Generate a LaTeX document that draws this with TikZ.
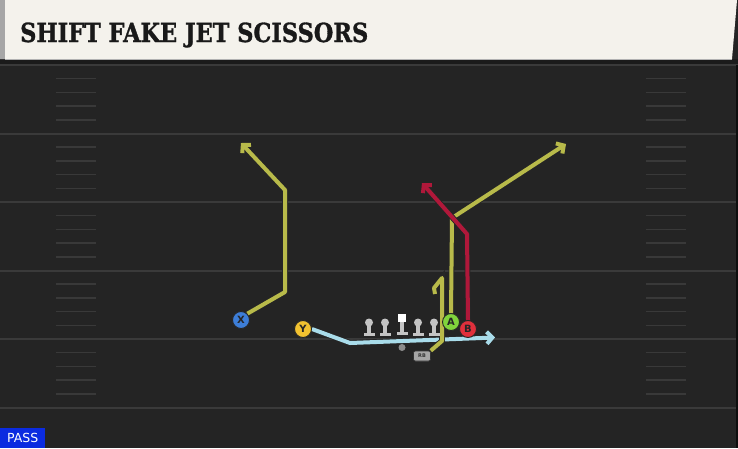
\documentclass[tikz,border=0pt]{standalone}
\usepackage{fontspec}
\usetikzlibrary{arrows.meta}
\newfontfamily\titlefont[BoldFeatures={FakeBold=1.2}]{DejaVu Serif Condensed}
\setsansfont{DejaVu Sans}
\definecolor{field}{HTML}{242424}
\definecolor{band}{HTML}{1B1B1B}
\definecolor{yardline}{HTML}{3A3A3A}
\definecolor{hashc}{HTML}{393939}
\definecolor{cream}{HTML}{F4F2EC}
\definecolor{olive}{HTML}{B8BA4A}
\definecolor{redroute}{HTML}{B0183A}
\definecolor{blueroute}{HTML}{A9DCEA}
\definecolor{xblue}{HTML}{3D7ED8}
\definecolor{yyellow}{HTML}{F2C230}
\definecolor{agreen}{HTML}{80D43C}
\definecolor{bred}{HTML}{E0303C}
\definecolor{linegray}{HTML}{C4C4C4}
\definecolor{passblue}{HTML}{0B2BE0}
\tikzset{
  player/.style={circle, draw=black!85, line width=0.9pt, minimum size=17pt, inner sep=0pt,
    font=\sffamily\bfseries\fontsize{10}{10}\selectfont, text=black!85},
  rblabel/.style={fill=black!35, draw=black!80, line width=0.6pt, rounded corners=2pt, minimum width=17pt,
    minimum height=10pt, inner sep=0pt, font=\sffamily\bfseries\fontsize{5}{5}\selectfont, text=black!80},
  route/.style={line width=4pt, line join=round, line cap=butt,
    preaction={draw=black!85, line width=5.8pt}},
  tipped/.style={-{Straight Barb[length=5.5pt,width=12pt,line width=4pt]}},
  hashmark/.style={draw=hashc, line width=1.5pt},
  yardmark/.style={draw=yardline, line width=2pt},
}
\begin{document}
\begin{tikzpicture}[x=1pt,y=-1pt]
\useasboundingbox (0,0) rectangle (738,448);
% field
\fill[field] (0,0) rectangle (738,448);
\fill[band] (0,59) rectangle (738,65);
% yard lines
\foreach \yy in {65,133.5,202,270.5,339,407.5}{
  \draw[yardmark] (0,\yy) -- (738,\yy);
}
% hash marks
\foreach \base in {65,133.5,202,270.5,339}{
  \foreach \k in {1,2,3,4}{
    \draw[hashmark] (56,\base+\k*13.7) -- (96,\base+\k*13.7);
    \draw[hashmark] (646,\base+\k*13.7) -- (686,\base+\k*13.7);
  }
}
\draw[draw=black!60!field, line width=2pt] (736.5,65) -- (736.5,448);
% header
\fill[cream] (0,0) -- (737,0) -- (732,59) -- (0,59) -- cycle;
\fill[black!35] (0,0) rectangle (5,59);
\draw[black!30, line width=0.8pt] (5,59) -- (732,59);
\node[anchor=base west, inner sep=0pt, text=black!90] (title) at (20,42)
  {\resizebox{348pt}{19.5pt}{\titlefont\bfseries SHIFT FAKE JET SCISSORS}};
% PASS label
\node[anchor=south west, fill=passblue, text=white, inner sep=0pt, minimum width=45pt, minimum height=20pt,
  font=\sffamily\fontsize{12.5}{12.5}\selectfont] (pass) at (0,448) {PASS};

% coordinates
\coordinate (xb1) at (285,292);
\coordinate (xb2) at (285,190);
\coordinate (xtip) at (241,143);
\coordinate (yb1) at (350,343);
\coordinate (ytip) at (495,337.5);
\coordinate (ab1) at (452,218);
\coordinate (atip) at (566,144);
\coordinate (bb1) at (467,234);
\coordinate (btip) at (422,183);
\coordinate (rb1) at (442,341);
\coordinate (rb2) at (442,278);
\coordinate (rb3) at (434,288);
\coordinate (rb4) at (435,294);

% players (nodes)
\node[player, fill=xblue] (X) at (241,320) {X};
\node[player, fill=yyellow] (Y) at (303,329) {Y};
\node[player, fill=agreen] (A) at (451,322) {A};
\node[player, fill=bred] (B) at (468,329) {B};
\node[rblabel] (RB) at (422,356) {RB};

% routes
\draw[route, draw=blueroute, tipped] (Y.east) -- (yb1) -- (ytip);
\draw[route, draw=olive, tipped] (X.north east) -- (xb1) -- (xb2) -- (xtip);
\draw[route, draw=olive] (RB.north east) -- (rb1) -- (rb2) -- (rb3) -- (rb4);
\draw[route, draw=olive, tipped] (A.north) -- (ab1) -- (atip);
\draw[route, draw=redroute, tipped] (B.north) -- (bb1) -- (btip);

% QB
\fill[black!45] (402,347.5) circle (3.5pt);
% linemen
\foreach \lx in {369,385,418,434}{
  \fill[linegray] (\lx,322.5) circle (4pt);
  \fill[linegray] (\lx-1.7,324) rectangle (\lx+1.7,333);
  \fill[linegray] (\lx-5.5,332.5) rectangle (\lx+5.5,336);
}
\fill[white] (398,314) rectangle (406,322);
\fill[linegray] (400.3,322) rectangle (403.7,331.5);
\fill[linegray] (396.5,331.5) rectangle (407.5,335);

% redraw players on top of routes
\node[player, fill=xblue] at (X) {X};
\node[player, fill=yyellow] at (Y) {Y};
\node[player, fill=agreen] at (A) {A};
\node[player, fill=bred] at (B) {B};
\node[rblabel] at (RB) {RB};
\end{tikzpicture}
\end{document}
